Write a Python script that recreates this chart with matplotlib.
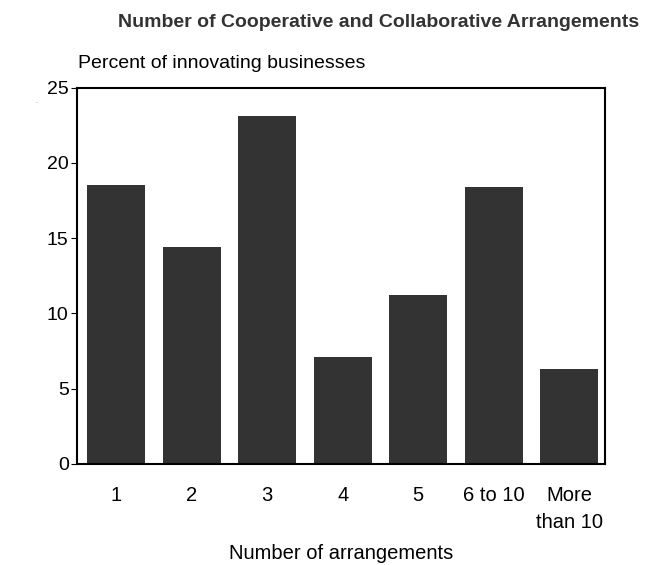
import matplotlib
matplotlib.use("Agg")
import matplotlib.pyplot as plt

categories = ["1", "2", "3", "4", "5", "6 to 10", "More\nthan 10"]
percent = [18.5, 14.4, 23.1, 7.1, 11.2, 18.4, 6.3]

plt.rcParams['font.family'] = ['Liberation Sans', 'DejaVu Sans']

fig = plt.figure(figsize=(6.53, 5.65), dpi=100)
ax = fig.add_axes([0.118, 0.179, 0.809, 0.666])

x = range(len(categories))
ax.bar(x, percent, width=0.77, color='#333333')

ax.set_xlim(-0.52, 6.48)
ax.set_ylim(0, 25)
ax.set_yticks([0, 5, 10, 15, 20, 25])
ax.set_xticks(list(x))
ax.set_xticklabels(categories, fontsize=14.5, va='top', linespacing=1.5)
ax.tick_params(axis='x', length=0, pad=16)
ax.tick_params(axis='y', labelsize=14, length=4, width=0.8, pad=2)
for s in ax.spines.values():
    s.set_linewidth(1.5)

fig.text(0.12, 0.887, "Percent of innovating businesses", fontsize=14, va='center')
fig.text(0.522, 0.021, "Number of arrangements", fontsize=14.5, ha='center', va='center')
fig.text(0.579, 0.961, "Number of Cooperative and Collaborative Arrangements",
         ha='center', va='center', color='#333333', fontsize=14, fontweight='bold')
fig.text(0.056, 0.818, ".", fontsize=5, color='#777777', ha='center')

fig.savefig("out.png", dpi=100)
